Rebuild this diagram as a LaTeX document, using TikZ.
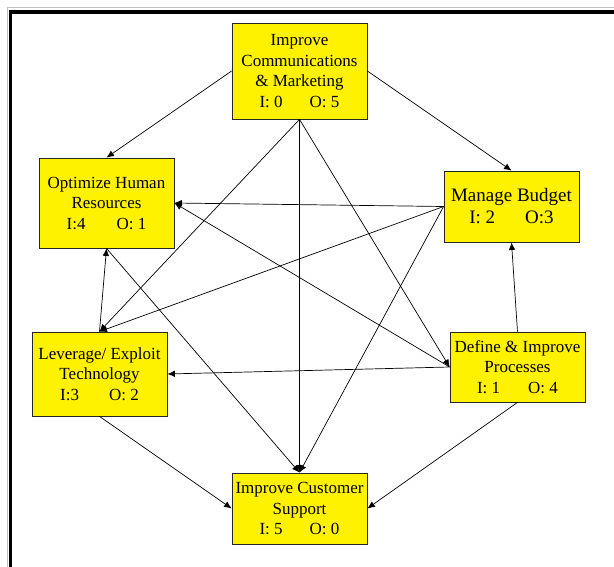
\documentclass[tikz,border=0pt]{standalone}
\usepackage{fontspec}
\setmainfont{Liberation Serif}
\usetikzlibrary{arrows.meta}
\tikzset{
  goalbox/.style={draw=black!85, line width=0.8pt, fill=yellow, rectangle, inner sep=0pt,
    minimum width=135pt, align=center, font=\fontsize{17}{20.5}\selectfont},
  link/.style={draw=black, line width=0.7pt, -{Latex[length=7.5pt,width=6.5pt]}}
}
\begin{document}
\begin{tikzpicture}[x=1pt,y=-1pt]
\useasboundingbox (0,0) rectangle (614,567);
\fill[white] (0,0) rectangle (614,567);
% frame
\draw[black!25, line width=0.8pt] (7,567) -- (7,7) -- (614,7);
\draw[black, line width=3.8pt, line join=miter] (10.5,567) -- (10.5,11.7) -- (614,11.7);
% nodes
\node[goalbox, minimum height=96pt] (comm) at (299.5,71) {Improve\\Communications\\\& Marketing\\I: 0\hspace{27pt}O: 5};
\node[goalbox, minimum height=90pt] (hr) at (106.5,203) {Optimize Human\\Resources\\I:4\hspace{31pt}O: 1};
\node[goalbox, minimum height=71pt, font=\fontsize{19}{22}\selectfont] (budget) at (511.5,206.5) {Manage Budget\\I: 2\hspace{30pt}O:3};
\node[goalbox, minimum height=84pt] (lev) at (99.5,374) {Leverage/ Exploit\\Technology\\I:3\hspace{30pt}O: 2};
\node[goalbox, minimum height=70pt] (define) at (517.5,367) {Define \& Improve\\Processes\\I: 1\hspace{28pt}O: 4};
\node[goalbox, minimum height=71pt] (cust) at (299.5,508.5) {Improve Customer\\Support\\I: 5\hspace{27pt}O: 0};
% connectors
\draw[link] (comm.west) -- (hr.north);
\draw[link] (comm.east) -- (budget.north);
\draw[link] (comm.south) -- (lev.north);
\draw[link] (comm.south) -- (cust.north);
\draw[link] (comm.south) -- (define.west);
\draw[link] (define.west) -- (hr.east);
\draw[link] (define.north) -- (budget.south);
\draw[link] (define.west) -- (lev.east);
\draw[link] (define.south) -- (cust.east);
\draw[link] (budget.west) -- (hr.east);
\draw[link] (budget.west) -- (lev.north);
\draw[link] (budget.west) -- (cust.north);
\draw[link] (lev.north) -- (hr.south);
\draw[link] (lev.south) -- (cust.west);
\draw[link] (hr.south) -- (cust.north);
\end{tikzpicture}
\end{document}
